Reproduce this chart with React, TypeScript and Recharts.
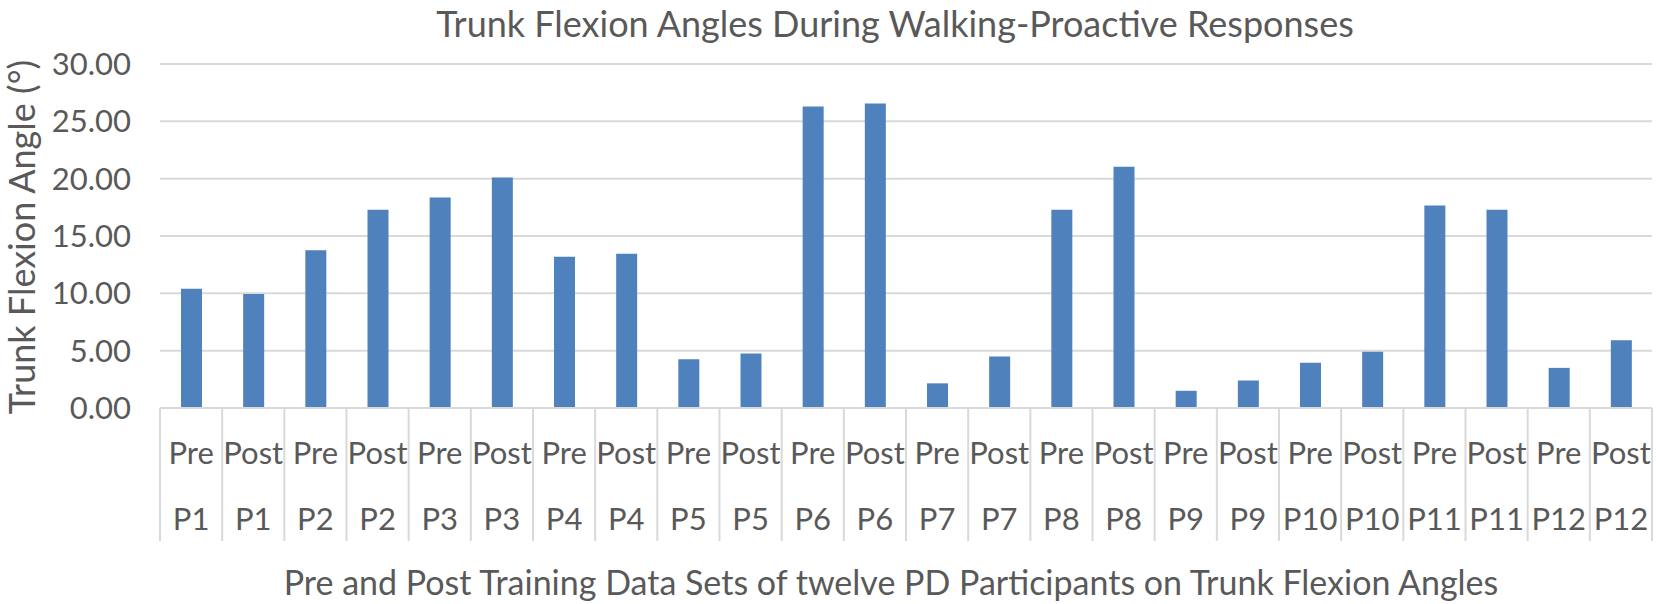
import { BarChart, Bar, XAxis, YAxis, CartesianGrid } from 'recharts';

const participants = ['P1', 'P1', 'P2', 'P2', 'P3', 'P3', 'P4', 'P4', 'P5', 'P5', 'P6', 'P6',
  'P7', 'P7', 'P8', 'P8', 'P9', 'P9', 'P10', 'P10', 'P11', 'P11', 'P12', 'P12'];
const phases = ['Pre', 'Post', 'Pre', 'Post', 'Pre', 'Post', 'Pre', 'Post', 'Pre', 'Post', 'Pre', 'Post',
  'Pre', 'Post', 'Pre', 'Post', 'Pre', 'Post', 'Pre', 'Post', 'Pre', 'Post', 'Pre', 'Post'];
const angles = [10.4, 9.95, 13.75, 17.3, 18.35, 20.1, 13.2, 13.45, 4.25, 4.75, 26.3, 26.55,
  2.15, 4.5, 17.3, 21.05, 1.5, 2.4, 3.95, 4.9, 17.65, 17.3, 3.5, 5.9];
const yTicks = [0, 5, 10, 15, 20, 25, 30];

const data = angles.map((v, i) => ({ key: `${phases[i]}-${participants[i]}-${i}`, phase: phases[i], participant: participants[i], angle: v }));

const W = 1658;
const H = 604;
const PLOT_LEFT = 160;
const PLOT_RIGHT = 1652;
const PLOT_TOP = 64;
const PLOT_BOTTOM = 408;
const BAND = (PLOT_RIGHT - PLOT_LEFT) / data.length;
const TEXT = '#595959';
const GRID = '#D9D9D9';
const FONT = 'Lato, sans-serif';

const CategoryTick = (props: any) => {
  const { x, index } = props;
  const d = data[index];
  const left = x - BAND / 2;
  const right = x + BAND / 2;
  return (
    <g>
      <line x1={left} x2={left} y1={PLOT_BOTTOM} y2={PLOT_BOTTOM + 133} stroke={GRID} strokeWidth={2} />
      {index === data.length - 1 && (
        <line x1={right} x2={right} y1={PLOT_BOTTOM} y2={PLOT_BOTTOM + 133} stroke={GRID} strokeWidth={2} />
      )}
      <text x={x} y={464} textAnchor="middle" fill={TEXT} fontSize={31} fontFamily={FONT}>{d.phase}</text>
      <text x={x} y={530} textAnchor="middle" fill={TEXT} fontSize={31} fontFamily={FONT}>{d.participant}</text>
    </g>
  );
};

export default function App() {
  return (
    <div style={{ position: 'absolute', left: 0, top: 0, width: W, height: H, background: '#fff', fontFamily: FONT }}>
      <BarChart
        width={W}
        height={H}
        data={data}
        margin={{ top: PLOT_TOP, right: W - PLOT_RIGHT, left: 0, bottom: 0 }}
        barSize={21}
      >
        <CartesianGrid vertical={false} stroke={GRID} strokeWidth={2} />
        <XAxis
          dataKey="key"
          interval={0}
          tickLine={false}
          axisLine={{ stroke: GRID, strokeWidth: 2 }}
          tick={<CategoryTick />}
          height={H - PLOT_BOTTOM}
        />
        <YAxis
          width={PLOT_LEFT}
          domain={[0, 30]}
          ticks={yTicks}
          tickFormatter={(v: number) => v.toFixed(2)}
          tickLine={false}
          axisLine={false}
          tickMargin={23}
          tick={{ fill: TEXT, fontSize: 31, fontFamily: FONT }}
        />
        <Bar dataKey="angle" fill="#4F81BD" isAnimationActive={false} />
      </BarChart>
      <div style={{ position: 'absolute', left: 0, width: 1790, top: 1, textAlign: 'center', color: TEXT, fontSize: 36, whiteSpace: 'nowrap' }}>
        Trunk Flexion Angles During Walking-Proactive Responses
      </div>
      <div style={{ position: 'absolute', left: 0, width: 1782, top: 561, textAlign: 'center', color: TEXT, fontSize: 34, whiteSpace: 'nowrap' }}>
        Pre and Post Training Data Sets of twelve PD Participants on Trunk Flexion Angles
      </div>
      <div style={{ position: 'absolute', left: 21, top: 237, width: 0, height: 0 }}>
        <div style={{ position: 'absolute', transform: 'translate(-50%, -50%) rotate(-90deg)', color: TEXT, fontSize: 36, lineHeight: 1, whiteSpace: 'nowrap' }}>
          Trunk Flexion Angle (°)
        </div>
      </div>
    </div>
  );
}
